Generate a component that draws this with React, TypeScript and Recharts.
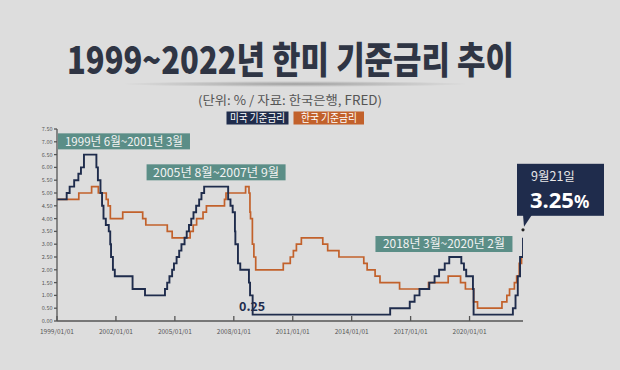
import React from 'react';
import { LineChart, Line, XAxis, YAxis, ReferenceDot } from 'recharts';

// 미국 기준금리 (FRED, 상단) — 변경일 / 금리
const usDates = [
  '1999-01-01', '1999-06-30', '1999-08-24', '1999-11-16', '2000-02-02', '2000-03-21', '2000-05-16',
  '2001-01-03', '2001-01-31', '2001-03-20', '2001-04-18', '2001-05-15', '2001-06-27', '2001-08-21',
  '2001-09-17', '2001-10-02', '2001-11-06', '2001-12-11', '2002-11-06', '2003-06-25', '2004-06-30',
  '2004-08-10', '2004-09-21', '2004-11-10', '2004-12-14', '2005-02-02', '2005-03-22', '2005-05-03',
  '2005-06-30', '2005-08-09', '2005-09-20', '2005-11-01', '2005-12-13', '2006-01-31', '2006-03-28',
  '2006-05-10', '2006-06-29', '2007-09-18', '2007-10-31', '2007-12-11', '2008-01-22', '2008-01-30',
  '2008-03-18', '2008-04-30', '2008-10-08', '2008-10-29', '2008-12-16', '2015-12-17', '2016-12-15',
  '2017-03-16', '2017-06-15', '2017-12-14', '2018-03-22', '2018-06-14', '2018-09-27', '2018-12-20',
  '2019-08-01', '2019-09-19', '2019-10-31', '2020-03-04', '2020-03-16', '2022-03-17', '2022-05-05',
  '2022-06-16', '2022-07-28', '2022-09-21',
];
const usRates = [
  4.75, 5.0, 5.25, 5.5, 5.75, 6.0, 6.5,
  6.0, 5.5, 5.0, 4.5, 4.0, 3.75, 3.5,
  3.0, 2.5, 2.0, 1.75, 1.25, 1.0, 1.25,
  1.5, 1.75, 2.0, 2.25, 2.5, 2.75, 3.0,
  3.25, 3.5, 3.75, 4.0, 4.25, 4.5, 4.75,
  5.0, 5.25, 4.75, 4.5, 4.25, 3.5, 3.0,
  2.25, 2.0, 1.5, 1.0, 0.25, 0.5, 0.75,
  1.0, 1.25, 1.5, 1.75, 2.0, 2.25, 2.5,
  2.25, 2.0, 1.75, 1.25, 0.25, 0.5, 1.0,
  1.75, 2.5, 3.25,
];

// 한국 기준금리 (한국은행)
const krDates = [
  '1999-01-01', '2000-02-10', '2000-10-05', '2001-02-08', '2001-07-05', '2001-08-09', '2001-09-19',
  '2002-05-07', '2003-05-13', '2003-07-10', '2004-08-12', '2004-11-11', '2005-10-11', '2005-12-08',
  '2006-02-09', '2006-06-08', '2006-08-10', '2007-07-12', '2007-08-09', '2008-08-07', '2008-10-09',
  '2008-10-27', '2008-11-07', '2008-12-11', '2009-01-09', '2009-02-12', '2010-07-09', '2010-11-16',
  '2011-01-13', '2011-03-10', '2011-06-10', '2012-07-12', '2012-10-11', '2013-05-09', '2014-08-14',
  '2014-10-15', '2015-03-12', '2015-06-11', '2016-06-09', '2017-11-30', '2018-11-30', '2019-07-18',
  '2019-10-16', '2020-03-17', '2020-05-28', '2021-08-26', '2021-11-25', '2022-01-14', '2022-04-14',
  '2022-05-26', '2022-07-13', '2022-08-25',
];
const krRates = [
  4.75, 5.0, 5.25, 5.0, 4.75, 4.5, 4.0,
  4.25, 4.0, 3.75, 3.5, 3.25, 3.5, 3.75,
  4.0, 4.25, 4.5, 4.75, 5.0, 5.25, 5.0,
  4.25, 4.0, 3.0, 2.5, 2.0, 2.25, 2.5,
  2.75, 3.0, 3.25, 3.0, 2.75, 2.5, 2.25,
  2.0, 1.75, 1.5, 1.25, 1.5, 1.75, 1.5,
  1.25, 0.75, 0.5, 0.75, 1.0, 1.25, 1.5,
  1.75, 2.25, 2.5,
];

const seriesNames = ['미국 기준금리', '한국 기준금리'];
const xTicks = [1999, 2002, 2005, 2008, 2011, 2014, 2017, 2020];
const yTicks = [0, 0.5, 1, 1.5, 2, 2.5, 3, 3.5, 4, 4.5, 5, 5.5, 6, 6.5, 7, 7.5];
const periodLabels = ['1999년 6월~2001년 3월', '2005년 8월~2007년 9월', '2018년 3월~2020년 2월'];
const lastDate = '9월21일';
const lastValue = '3.25';

const NAVY = '#1f2c4c';
const ORANGE = '#c2612b';
const TEAL = '#5b8e87';
const BG = '#dddddd';
const FONT = '"Noto Sans CJK KR", "Noto Sans", sans-serif';

const toYear = (d: string) => {
  const [y, m, dd] = d.split('-').map(Number);
  return y + (Date.UTC(y, m - 1, dd) - Date.UTC(y, 0, 1)) / (365 * 86400000);
};

const usData = usDates.map((d, i) => ({ x: toYear(d), v: usRates[i] }));
const krData = krDates.map((d, i) => ({ x: toYear(d), v: krRates[i] }));
const xEnd = toYear(usDates[usDates.length - 1]);

const periodBox = (text: string, w: number, tw: number) => (props: any) => {
  const { cx, cy } = props;
  return (
    <g>
      <rect x={cx} y={cy} width={w} height={16} fill={TEAL} />
      <text x={cx + (w - tw) / 2} y={cy + 12.2} fontSize={12} fill="#f2f2f2" fontFamily={FONT}
        textLength={tw} lengthAdjust="spacingAndGlyphs">{text}</text>
    </g>
  );
};

const Callout = (props: any) => {
  const { cx, cy } = props;
  return (
    <g>
      <rect x={cx - 6} y={cy - 74} width={87} height={52} fill={NAVY} />
      <path d={`M${cx},${cy - 23} L${cx + 9},${cy - 23} L${cx + 1},${cy - 11} Z`} fill={NAVY} />
      <circle cx={cx} cy={cy - 8} r={1.6} fill="#222" />
      <text x={cx + 8} y={cy - 57} fontSize={12.5} fill="#e8e8e8" fontFamily={FONT}>{lastDate}</text>
      <text x={cx + 7} y={cy - 29.5} fill="#ffffff" fontFamily='"Noto Sans", sans-serif' fontWeight={700}>
        <tspan fontSize={22}>{lastValue}</tspan>
        <tspan fontSize={17}>%</tspan>
      </text>
    </g>
  );
};

const LowLabel = (props: any) => {
  const { cx, cy } = props;
  return (
    <text x={cx - 0.5} y={cy - 4} textAnchor="middle" fontSize={12.5} fontWeight={700} fill={NAVY} fontFamily={FONT}>
      0.25
    </text>
  );
};

export default function App() {
  return (
    <div style={{ position: 'fixed', left: 0, top: 0, width: 620, height: 370, background: BG, fontFamily: FONT, overflow: 'hidden' }}>
      <svg width={620} height={130} style={{ position: 'absolute', left: 0, top: 0 }}>
        <defs>
          <radialGradient id="shade" cx="50%" cy="50%" r="50%">
            <stop offset="0%" stopColor="#000" stopOpacity={0.28} />
            <stop offset="100%" stopColor="#000" stopOpacity={0} />
          </radialGradient>
        </defs>
        <ellipse cx={295} cy={84} rx={175} ry={3} fill="url(#shade)" />
        <text x={67} y={73.5} fontSize={37} fontWeight={900} fill="#2f3544" fontFamily={FONT}
          textLength={447} lengthAdjust="spacingAndGlyphs">1999~2022년 한미 기준금리 추이</text>
        <text x={198} y={104.5} fontSize={12.5} fill="#555" fontFamily={FONT}
          textLength={184} lengthAdjust="spacingAndGlyphs">(단위: % / 자료: 한국은행, FRED)</text>
        <rect x={226.5} y={111.5} width={62} height={13} fill={NAVY} />
        <text x={230} y={122} fontSize={11} fill="#fff" fontFamily={FONT} textLength={55} lengthAdjust="spacingAndGlyphs">{seriesNames[0]}</text>
        <rect x={293.5} y={111.5} width={70.5} height={13} fill={ORANGE} />
        <text x={301} y={122} fontSize={11} fill="#fff" fontFamily={FONT} textLength={56} lengthAdjust="spacingAndGlyphs">{seriesNames[1]}</text>
      </svg>
      <div style={{ position: 'absolute', left: 0, top: 0 }}>
        <LineChart width={620} height={370} margin={{ top: 129, right: 97, left: 27, bottom: 24 }}>
          <XAxis dataKey="x" type="number" domain={[1999, xEnd]} ticks={xTicks} allowDataOverflow
            tickFormatter={(v: number) => `${v}/01/01`} height={25}
            tick={{ fontSize: 6.5, fill: '#555', fontFamily: FONT }}
            stroke="#555" strokeWidth={1.3} tickSize={-5} tickMargin={13} />
          <YAxis type="number" domain={[0, 7.5]} ticks={yTicks} width={30} interval={0}
            tickFormatter={(v: number) => v.toFixed(2)}
            tick={{ fontSize: 5.5, fill: '#555', fontFamily: FONT }}
            stroke="#555" strokeWidth={1.3} tickSize={3} tickMargin={1.5} />
          <Line data={krData} dataKey="v" name={seriesNames[1]} type="stepAfter" stroke={ORANGE}
            strokeWidth={1.7} dot={false} isAnimationActive={false} />
          <Line data={usData} dataKey="v" name={seriesNames[0]} type="stepAfter" stroke={NAVY}
            strokeWidth={1.9} dot={false} isAnimationActive={false} />
          <ReferenceDot x={1999.05} y={7.33} r={0} shape={periodBox(periodLabels[0], 132, 118)} ifOverflow="visible" />
          <ReferenceDot x={2003.56} y={6.12} r={0} shape={periodBox(periodLabels[1], 139, 126)} ifOverflow="visible" />
          <ReferenceDot x={2015.21} y={3.32} r={0} shape={periodBox(periodLabels[2], 137, 122)} ifOverflow="visible" />
          <ReferenceDot x={toYear('2008-12-16')} y={0.25} r={0} shape={LowLabel} ifOverflow="visible" />
          <ReferenceDot x={xEnd} y={3.25} r={0} shape={Callout} ifOverflow="visible" />
        </LineChart>
      </div>
    </div>
  );
}
